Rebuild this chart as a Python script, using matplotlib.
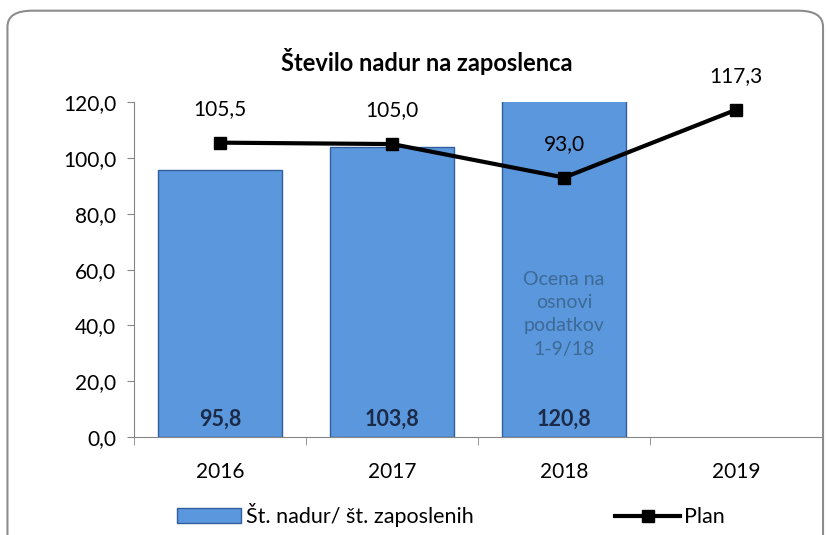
import matplotlib.pyplot as plt
from matplotlib.patches import FancyBboxPatch
import numpy as np

plt.rcParams['font.family'] = ['Lato', 'DejaVu Sans']

years = ['2016', '2017', '2018', '2019']
bar_vals = [95.8, 103.8, 120.8]
plan_vals = [105.5, 105.0, 93.0, 117.3]

def fmt(v):
    return ('%.1f' % v).replace('.', ',')

fig = plt.figure(figsize=(8.28, 5.35), dpi=100)

# rounded frame around the chart
frame = FancyBboxPatch((0.009, -0.05), 0.985, 1.03, boxstyle='round,pad=0,rounding_size=0.03',
                       transform=fig.transFigure, fill=False, edgecolor='#8c8c8c', linewidth=1.5)
fig.patches.append(frame)

ax = fig.add_axes([0.162, 0.183, 0.831, 0.626])
x = np.arange(len(years))

bars = ax.bar(x[:3], bar_vals, width=0.72, color='#5b97dc', edgecolor='#2f5f9e', linewidth=1.0,
              label='Št. nadur/ št. zaposlenih', zorder=2)

line, = ax.plot(x, plan_vals, color='black', linewidth=3, marker='s', markersize=9,
                markerfacecolor='black', label='Plan', zorder=3)

for xi, v in zip(x[:3], bar_vals):
    ax.text(xi, 6.5, fmt(v), ha='center', va='center', fontsize=15.5, fontweight='bold',
            color='#1b2a47', zorder=4)

for xi, v in zip(x, plan_vals):
    ax.text(xi, v + 8.5, fmt(v), ha='center', va='bottom', fontsize=15, color='black', zorder=4)

ax.text(x[2], 44, 'Ocena na\nosnovi\npodatkov\n1-9/18', ha='center', va='center', fontsize=14,
        color='#3d6a96', linespacing=1.45, zorder=4)

ax.set_ylim(0, 120)
ax.set_xlim(-0.5, 3.5)
ax.set_yticks(np.arange(0, 121, 20))
ax.set_yticklabels([fmt(v) for v in np.arange(0, 121, 20)], fontsize=15)
ax.set_xticks(x)
ax.set_xticklabels(years, fontsize=15)
ax.set_xticks(np.arange(-0.5, 3.6, 1), minor=True)
ax.tick_params(axis='x', which='major', length=0, pad=18)
ax.tick_params(axis='x', which='minor', length=6, color='#868686')
ax.tick_params(axis='y', length=5, color='#868686', pad=8)
for s in ['top', 'right']:
    ax.spines[s].set_visible(False)
for s in ['left', 'bottom']:
    ax.spines[s].set_color('#868686')

fig.text(0.515, 0.885, 'Število nadur na zaposlenca', ha='center', va='center', fontsize=17,
         fontweight='bold')

fig.legend([bars, line], ['Št. nadur/ št. zaposlenih', 'Plan'], loc='center left',
           bbox_to_anchor=(0.19, 0.037), ncol=2, frameon=False, fontsize=15.5,
           handlelength=3.0, handleheight=0.7, handletextpad=0.2, columnspacing=6.6)

fig.savefig('out.png', dpi=100)
